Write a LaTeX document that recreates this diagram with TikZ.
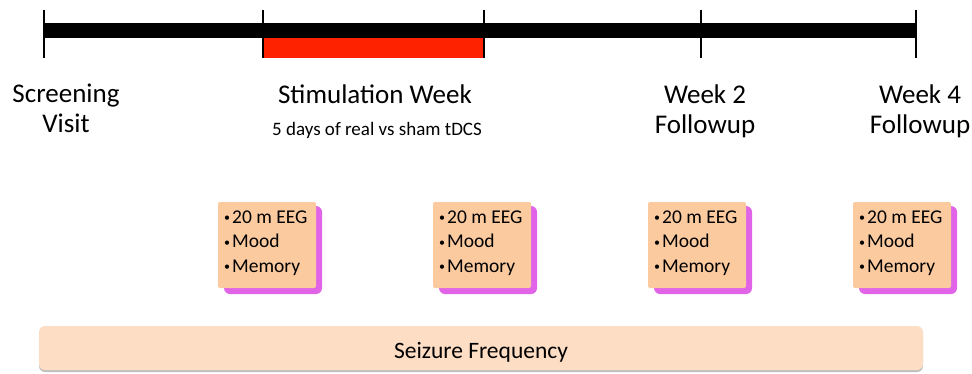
\documentclass[tikz,border=0pt]{standalone}
\usepackage{fontspec}
\setmainfont{Carlito}

\definecolor{stimred}{HTML}{FF2200}
\definecolor{boxpeach}{HTML}{FBCA9F}
\definecolor{boxpink}{HTML}{E063E8}
\definecolor{barpeach}{HTML}{FDDDC3}

\newcommand{\itembullet}{\raisebox{1.5pt}{\fontsize{12}{12}\selectfont\textbullet}\hspace{2pt}}

\tikzset{
  phase/.style={align=center, inner sep=0pt, anchor=base,
    font=\fontsize{27}{30}\selectfont},
  tests/.style={align=left, inner sep=0pt, anchor=base west,
    font=\fontsize{19.5}{24.5}\selectfont},
}

\begin{document}
\begin{tikzpicture}[x=1pt,y=-1pt]
  \useasboundingbox (0,0) rectangle (972,373);

  % timeline
  \fill (44,23) rectangle (916,38);
  \fill[stimred] (263,38) rectangle (484,58);
  \foreach \x in {44,263,484,701,916}
  \draw[line width=1.1pt] (\x,10) -- (\x,58);

  % phases (base is the last line)
  \node[phase] (screen) at (66,132) {Screening\\Visit};
  \node[phase] (stim) at (375,103) {Stimulation Week};
  \node[phase, font=\fontsize{19}{22}\selectfont] (sham) at (377,135)
    {5 days of real vs sham tDCS};
  \node[phase] (wk2) at (705,133) {Week 2\\Followup};
  \node[phase] (wk4) at (920,133) {Week 4\\Followup};

  % EEG, mood and memory
  \foreach \bx/\name in {218/a,433/b,648/c,853/d}
  {
    \fill[boxpink, rounded corners=6pt] (\bx+6,206) rectangle (\bx+104,294);
    \fill[boxpeach, rounded corners=2pt] (\bx,202) rectangle (\bx+98,288);
    \node[tests] (tests-\name) at (\bx+6,272)
      {\itembullet 20 m EEG\\\itembullet Mood\\\itembullet Memory};
  }

  % seizure frequency
  \fill[black!25, rounded corners=6pt] (39,328) rectangle (923,372);
  \fill[barpeach, rounded corners=6pt] (39,326) rectangle (923,370);
  \node[phase, font=\fontsize{23.5}{26}\selectfont] (seizure) at (481,358)
    {Seizure Frequency};
\end{tikzpicture}
\end{document}
